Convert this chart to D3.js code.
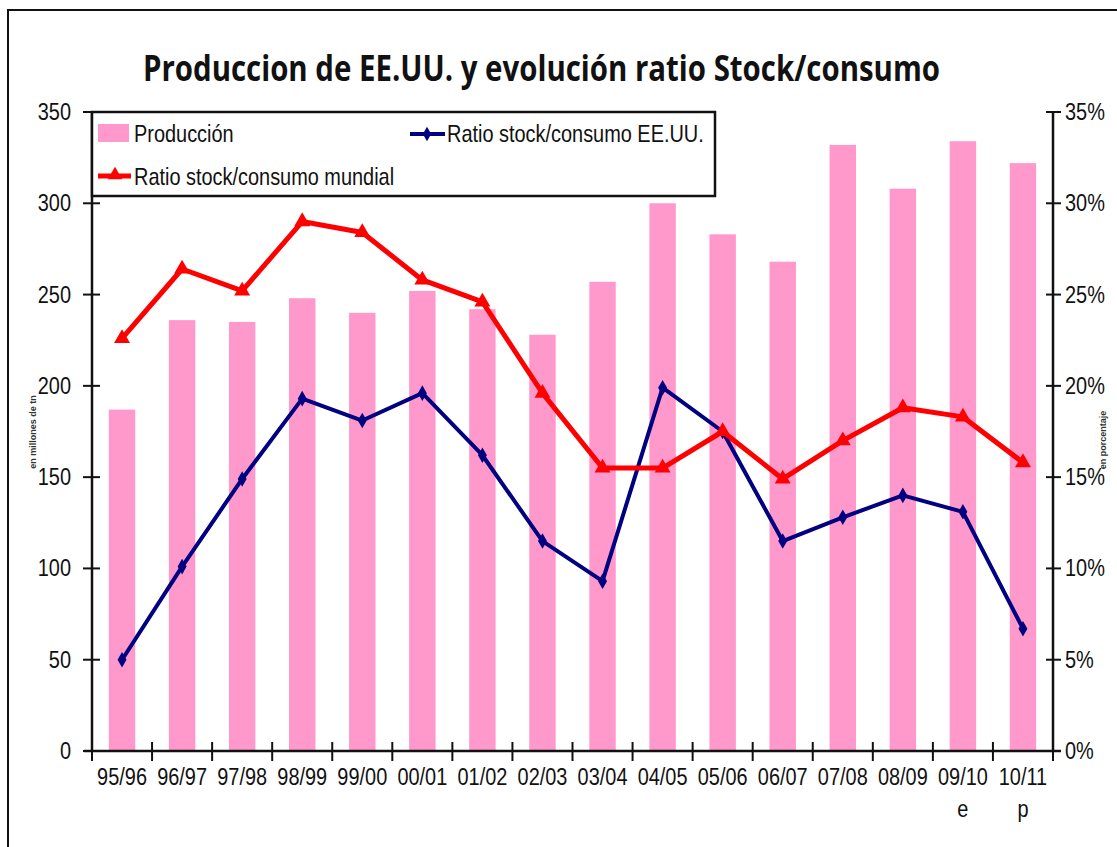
<!DOCTYPE html>
<html>
<head>
<meta charset="utf-8">
<script src="https://cdn.jsdelivr.net/npm/d3@7"></script>
<style>
  html, body { margin: 0; padding: 0; background: #fff; }
  svg { display: block; }
  .tick-label { font-family: "Liberation Sans", Arial, sans-serif; font-size: 24px; fill: #111; }
</style>
</head>
<body>
<div id="chart"></div>
<script>
// --- DATA ---
const categories = ["95/96", "96/97", "97/98", "98/99", "99/00", "00/01", "01/02", "02/03",
                    "03/04", "04/05", "05/06", "06/07", "07/08", "08/09", "09/10", "10/11"];
const subLabels = ["", "", "", "", "", "", "", "", "", "", "", "", "", "", "e", "p"];
const produccion = [187, 236, 235, 248, 240, 252, 242, 228, 257, 300, 283, 268, 332, 308, 334, 322];
const ratioEEUU = [5.0, 10.1, 14.9, 19.3, 18.1, 19.6, 16.2, 11.5, 9.3, 19.9, 17.5, 11.5, 12.8, 14.0, 13.1, 6.7];
const ratioMundial = [22.6, 26.4, 25.2, 29.0, 28.4, 25.8, 24.6, 19.6, 15.5, 15.5, 17.5, 14.9, 17.0, 18.8, 18.3, 15.8];
const leftTicks = [0, 50, 100, 150, 200, 250, 300, 350];
const rightTicks = [0, 5, 10, 15, 20, 25, 30, 35];

// --- SETUP ---
const width = 1117, height = 847;
const margin = {top: 112, right: 64, bottom: 96, left: 92};
const squeeze = 0.83; // the original uses a condensed face

const svg = d3.select("#chart").append("svg")
    .attr("width", width)
    .attr("height", height);

// condensed text helper
function narrowText(parent, x, y, txt, anchor) {
    return parent.append("g")
        .attr("transform", `translate(${x},${y}) scale(${squeeze},1)`)
        .append("text")
        .attr("class", "tick-label")
        .attr("text-anchor", anchor || "start")
        .text(txt);
}

// outer frame
svg.append("rect")
    .attr("x", 8).attr("y", 10)
    .attr("width", width + 20).attr("height", height + 20)
    .attr("fill", "none")
    .attr("stroke", "#111")
    .attr("stroke-width", 2);

// title
svg.append("text")
    .attr("x", 143).attr("y", 81)
    .attr("textLength", 797)
    .attr("lengthAdjust", "spacingAndGlyphs")
    .style("font-family", '"Open Sans", "Noto Sans", sans-serif')
    .style("font-weight", "bold")
    .style("font-size", "35px")
    .attr("fill", "#111")
    .text("Produccion de EE.UU. y evolución ratio Stock/consumo");

// scales
const x = d3.scaleBand()
    .domain(categories)
    .range([margin.left, width - margin.right])
    .paddingInner(0.56)
    .paddingOuter(0.28);

const yLeft = d3.scaleLinear()
    .domain([0, 350])
    .range([height - margin.bottom, margin.top]);

const yRight = d3.scaleLinear()
    .domain([0, 35])
    .range([height - margin.bottom, margin.top]);

const cx = d => x(d) + x.bandwidth() / 2;
const x0 = margin.left, x1 = width - margin.right, yBase = height - margin.bottom;

// --- BARS ---
svg.append("g")
    .selectAll("rect")
    .data(categories)
    .enter().append("rect")
    .attr("x", d => x(d))
    .attr("y", (d, i) => yLeft(produccion[i]))
    .attr("width", x.bandwidth())
    .attr("height", (d, i) => yBase - yLeft(produccion[i]))
    .attr("fill", "#ff99cc");

// --- AXES ---
const axisG = svg.append("g").attr("stroke", "#111");
axisG.append("line").attr("x1", x0).attr("x2", x0).attr("y1", yLeft(350)).attr("y2", yBase).attr("stroke-width", 2.5);
axisG.append("line").attr("x1", x1).attr("x2", x1).attr("y1", yLeft(350)).attr("y2", yBase).attr("stroke-width", 2.5);
axisG.append("line").attr("x1", x0 - 8).attr("x2", x1 + 8).attr("y1", yBase).attr("y2", yBase).attr("stroke-width", 2.5);

// left ticks + labels
leftTicks.forEach(t => {
    axisG.append("line").attr("x1", x0 - 9).attr("x2", x0 + 8)
        .attr("y1", yLeft(t)).attr("y2", yLeft(t)).attr("stroke-width", 2);
    narrowText(svg, 71, yLeft(t) + 8, t, "end");
});

// right ticks + labels
rightTicks.forEach(t => {
    axisG.append("line").attr("x1", x1 - 7).attr("x2", x1 + 8)
        .attr("y1", yRight(t)).attr("y2", yRight(t)).attr("stroke-width", 2);
    narrowText(svg, 1065, yRight(t) + 8, t + "%", "start");
});

// x ticks at band boundaries
const step = x.step();
const boundaries = categories.map(d => x(d) - (step - x.bandwidth()) / 2).concat([x1]);
boundaries.forEach(b => {
    axisG.append("line").attr("x1", b).attr("x2", b)
        .attr("y1", yBase - 9).attr("y2", yBase + 10).attr("stroke-width", 2);
});

// x labels
categories.forEach((d, i) => {
    narrowText(svg, cx(d), 785, d, "middle");
    if (subLabels[i]) narrowText(svg, cx(d), 817, subLabels[i], "middle");
});

// axis titles
svg.append("text")
    .attr("transform", `translate(36,432) rotate(-90)`)
    .attr("text-anchor", "middle")
    .style("font-family", '"Liberation Sans", sans-serif')
    .style("font-size", "9px")
    .style("font-weight", "bold")
    .attr("fill", "#333")
    .text("en millones de tn");

svg.append("text")
    .attr("transform", `translate(1106,440) rotate(-90)`)
    .attr("text-anchor", "middle")
    .style("font-family", '"Liberation Sans", sans-serif')
    .style("font-size", "9px")
    .style("font-weight", "bold")
    .attr("fill", "#333")
    .text("en porcentaje");

// --- LINES ---
const lineEEUU = d3.line()
    .x(d => cx(d))
    .y((d, i) => yRight(ratioEEUU[i]));

const lineMundial = d3.line()
    .x(d => cx(d))
    .y((d, i) => yRight(ratioMundial[i]));

svg.append("path")
    .attr("d", lineEEUU(categories))
    .attr("fill", "none")
    .attr("stroke", "#000080")
    .attr("stroke-width", 4)
    .attr("stroke-linejoin", "round");

svg.append("g")
    .selectAll("path")
    .data(categories)
    .enter().append("path")
    .attr("transform", (d, i) => `translate(${cx(d)},${yRight(ratioEEUU[i])})`)
    .attr("d", d3.symbol().type(d3.symbolDiamond).size(70))
    .attr("fill", "#000080");

svg.append("path")
    .attr("d", lineMundial(categories))
    .attr("fill", "none")
    .attr("stroke", "#ff0000")
    .attr("stroke-width", 5)
    .attr("stroke-linejoin", "round");

svg.append("g")
    .selectAll("path")
    .data(categories)
    .enter().append("path")
    .attr("transform", (d, i) => `translate(${cx(d)},${yRight(ratioMundial[i])})`)
    .attr("d", d3.symbol().type(d3.symbolTriangle).size(110))
    .attr("fill", "#ff0000");

// --- LEGEND ---
const legend = svg.append("g");
legend.append("rect")
    .attr("x", x0).attr("y", yLeft(350))
    .attr("width", 715 - x0).attr("height", 84)
    .attr("fill", "#fff")
    .attr("stroke", "#111")
    .attr("stroke-width", 2.5);

legend.append("rect")
    .attr("x", 98).attr("y", 124)
    .attr("width", 31).attr("height", 18)
    .attr("fill", "#ff99cc");
narrowText(legend, 134, 142, "Producción");

legend.append("line")
    .attr("x1", 410).attr("x2", 445).attr("y1", 134).attr("y2", 134)
    .attr("stroke", "#000080").attr("stroke-width", 4);
legend.append("path")
    .attr("transform", "translate(427,134)")
    .attr("d", d3.symbol().type(d3.symbolDiamond).size(60))
    .attr("fill", "#000080");
narrowText(legend, 447, 142, "Ratio stock/consumo EE.UU.");

legend.append("line")
    .attr("x1", 98).attr("x2", 131).attr("y1", 176).attr("y2", 176)
    .attr("stroke", "#ff0000").attr("stroke-width", 5);
legend.append("path")
    .attr("transform", "translate(115,175)")
    .attr("d", d3.symbol().type(d3.symbolTriangle).size(90))
    .attr("fill", "#ff0000");
narrowText(legend, 134, 185, "Ratio stock/consumo mundial");
</script>
</body>
</html>
